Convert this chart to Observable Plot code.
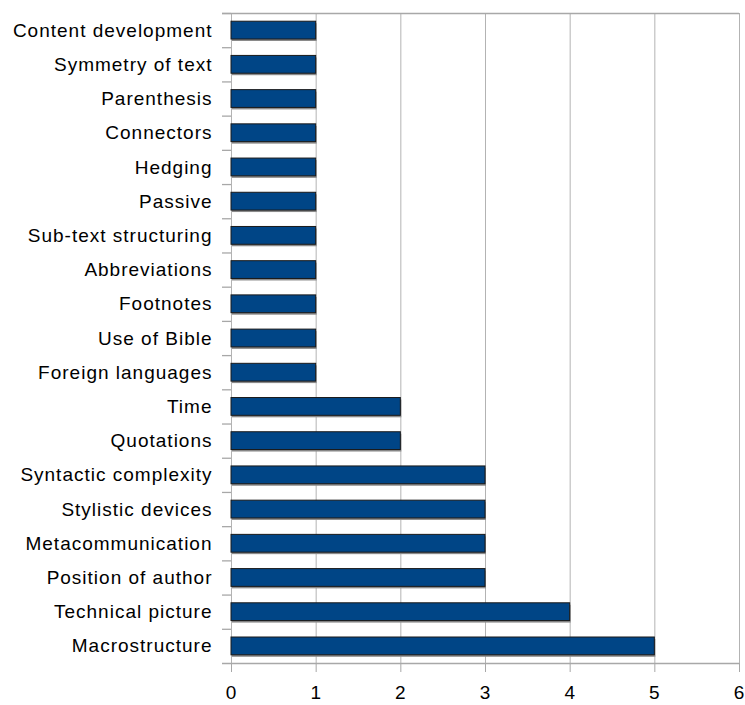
<!DOCTYPE html>
<html>
<head>
<meta charset="utf-8">
<script src="https://cdn.jsdelivr.net/npm/d3@7"></script>
<script src="https://cdn.jsdelivr.net/npm/@observablehq/plot@0.6"></script>
<style>
  html, body { margin: 0; padding: 0; background: #fff; }
  #chart svg { display: block; overflow: visible; }
  #chart [aria-label^="x-axis"] line, #chart [aria-label^="x-axis"] path { stroke: #a8a8a8; }
  #chart text { letter-spacing: 1px; }
</style>
</head>
<body>
<div id="chart"></div>
<script>
const categories = [
  "Content development", "Symmetry of text", "Parenthesis", "Connectors", "Hedging",
  "Passive", "Sub-text structuring", "Abbreviations", "Footnotes", "Use of Bible",
  "Foreign languages", "Time", "Quotations", "Syntactic complexity", "Stylistic devices",
  "Metacommunication", "Position of author", "Technical picture", "Macrostructure"
];
const counts = [1, 1, 1, 1, 1, 1, 1, 1, 1, 1, 1, 2, 2, 3, 3, 3, 3, 4, 5];
const xTicks = [0, 1, 2, 3, 4, 5, 6];

const data = categories.map((c, i) => ({category: c, count: counts[i]}));

const W = 745, H = 705, mL = 231, mR = 6, mT = 13, mB = 42;
const step = (H - mT - mB) / categories.length;
const tickLen = 9 / ((W - mL - mR) / 6);
const grid = "#b3b3b3";
const edge = "#a8a8a8";

const chart = Plot.plot({
  width: W, height: H,
  marginLeft: mL, marginRight: mR, marginTop: mT, marginBottom: mB,
  style: {fontFamily: "'Liberation Sans', Arial, sans-serif", fontSize: "19px", color: "#000", background: "#fff"},
  x: {domain: [0, 6], ticks: xTicks, tickFormat: d => String(d), tickSize: 9, tickPadding: 13, label: null},
  y: {domain: categories, paddingInner: 0.48, paddingOuter: 0.24, round: false, tickSize: 0, tickPadding: 19, label: null},
  marks: [
    Plot.ruleX(xTicks, {stroke: grid, strokeWidth: 1}),
    Plot.ruleY(categories, {y: d => d, x1: -tickLen, x2: 0, dy: -step / 2, stroke: edge, strokeWidth: 1.3}),
    Plot.ruleY([categories[0]], {y: d => d, x1: -tickLen, x2: 6, dy: -step / 2, stroke: edge, strokeWidth: 1.3}),
    Plot.ruleY([categories[categories.length - 1]], {y: d => d, x1: -tickLen, x2: 6, dy: step / 2, stroke: edge, strokeWidth: 1.3}),
    Plot.barX(data, {x: "count", y: "category", fill: "#8a8a8a", dx: 1, dy: 2}),
    Plot.barX(data, {x: "count", y: "category", fill: "#004586", stroke: "#1a1a1a", strokeWidth: 1})
  ]
});
document.getElementById("chart").appendChild(chart);
</script>
</body>
</html>
